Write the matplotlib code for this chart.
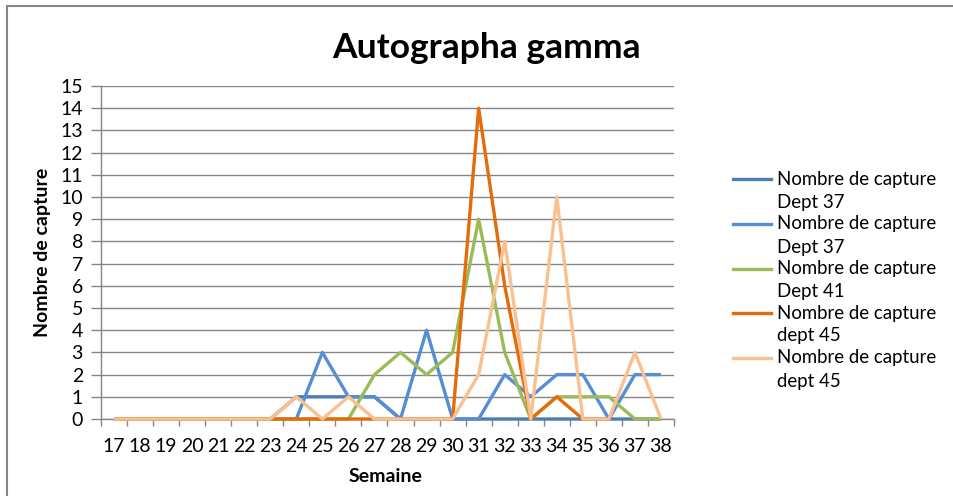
import matplotlib
matplotlib.use("Agg")
import matplotlib.pyplot as plt
from matplotlib.lines import Line2D
from matplotlib.patches import Rectangle
import numpy as np

nan = np.nan
weeks = list(range(17, 39))
dept37_a = [0, 0, 0, 0, 0, 0, 0, 1, 1, 1, 1, 0, 0, 0, 0, 0, 0, 0, 0, 0, 0, 0]
dept37_b = [0, 0, 0, 0, 0, 0, 0, 0, 3, 1, 1, 0, 4, 0, 0, 2, 1, 2, 2, 0, 2, 2]
dept41 = [0, 0, 0, 0, 0, 0, 0, 0, 0, 0, 2, 3, 2, 3, 9, 3, 0, 1, 1, 1, 0, 0]
dept45_a = [0, 0, 0, 0, 0, 0, 0, 0, 0, 0, 0, 0, 0, 0, 14, 6, 0, 1, 0, 0, nan, nan]
dept45_b = [0, 0, 0, 0, 0, 0, 0, 1, 0, 1, 0, 0, 0, 0, 2, 8, 0, 10, 0, 0, 3, 0]

series = [dept37_a, dept37_b, dept41, dept45_a, dept45_b]
labels = [("Nombre de capture", "Dept 37"), ("Nombre de capture", "Dept 37"),
          ("Nombre de capture", "Dept 41"), ("Nombre de capture", "dept 45"),
          ("Nombre de capture", "dept 45")]
colors = ["#4A7EBB", "#558ED5", "#9BBB59", "#E46C0A", "#FAC090"]

title = "Autographa gamma"
xlabel = "Semaine"
ylabel = "Nombre de capture"

plt.rcParams['font.family'] = ['Lato', 'DejaVu Sans']

W, H = 954, 496
fig = plt.figure(figsize=(W / 100, H / 100), dpi=100)
fig.patch.set_facecolor('white')

def fx(px):
    return px / W

def fy(py):
    return 1 - py / H

# outer border
fig.add_artist(Rectangle((fx(7), fy(520)), fx(1000), fy(6) - fy(520), transform=fig.transFigure,
                         fill=False, edgecolor='#868686', linewidth=1.5))

ax = fig.add_axes([fx(101), fy(419), fx(674) - fx(101), fy(86) - fy(419)])
x = np.arange(len(weeks))
for i, (s, c) in enumerate(zip(series, colors)):
    ax.plot(x, s, color=c, linewidth=2.4, clip_on=False, zorder=3 + i,
            solid_joinstyle='round', solid_capstyle='butt')

ax.set_xlim(-0.5, len(weeks) - 0.5)
ax.set_ylim(0, 15)
ax.set_yticks(range(0, 16))
ax.set_xticks(x)
ax.set_xticklabels([str(w) for w in weeks])
ax.set_xticks(np.arange(-0.5, len(weeks)), minor=True)
ax.tick_params(axis='x', which='major', length=0, pad=14, labelsize=14)
ax.tick_params(axis='x', which='minor', length=5, color='#868686', width=1)
ax.tick_params(axis='y', length=7, color='#868686', width=1, pad=6, labelsize=14)
ax.grid(axis='y', color='#868686', linewidth=1)
ax.set_axisbelow(True)
for sp in ['top', 'right']:
    ax.spines[sp].set_visible(False)
for sp in ['left', 'bottom']:
    ax.spines[sp].set_color('#868686')
    ax.spines[sp].set_linewidth(1)

fig.text(fx(487), fy(48), title, ha='center', va='center', fontsize=25.5, fontweight='bold')
fig.text(fx(386), fy(477), xlabel, ha='center', va='center', fontsize=14, fontweight='bold')
fig.text(fx(43), fy(252), ylabel, ha='center', va='center', rotation=90, fontsize=14, fontweight='bold')

# legend
ys = [179.5, 224, 268.5, 313, 358]
for (l1, l2), c, y in zip(labels, colors, ys):
    fig.add_artist(Line2D([fx(733), fx(771)], [fy(y), fy(y)], color=c, linewidth=2.4,
                          transform=fig.transFigure))
    fig.text(fx(777), fy(y), l1, ha='left', va='center', fontsize=13.4)
    fig.text(fx(777), fy(y + 23), l2, ha='left', va='center', fontsize=13.4)

fig.savefig("out.png", dpi=100, facecolor='white')
